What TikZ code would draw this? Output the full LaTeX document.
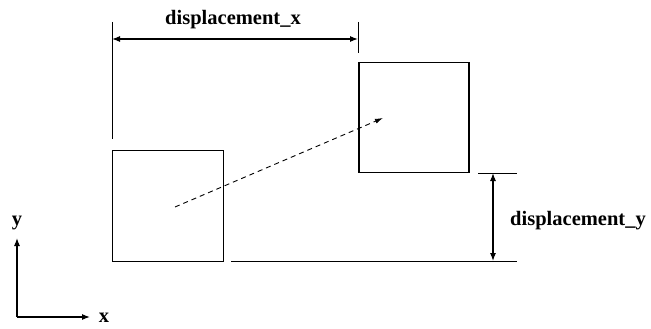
\documentclass[tikz,border=0pt]{standalone}
\usepackage{fontspec}
\setmainfont{Liberation Serif}
\usetikzlibrary{arrows.meta,positioning}

\begin{document}
\begin{tikzpicture}[x=1pt,y=-1pt,
    tip/.style={Latex[length=8pt,width=6pt]},
    dimline/.style={{Latex[length=8pt,width=6pt]}-{Latex[length=8pt,width=6pt]}, line width=1.1pt},
    axisline/.style={-{Latex[length=8pt,width=6pt]}, line width=1.1pt},
    extline/.style={line width=0.8pt},
    boldlabel/.style={font=\fontsize{20.5}{24}\selectfont\bfseries, inner sep=0pt, anchor=base}]
  \useasboundingbox (0,0) rectangle (651,329);

  % Squares
  \node[draw, line width=0.8pt, minimum size=111pt, inner sep=0pt] (start) at (167.5,205.5) {};
  \node[draw, line width=1.8pt, minimum size=110pt, inner sep=0pt] (target) at (414,117.5) {};

  % Motion
  \coordinate (from) at (175,207);
  \coordinate (to) at (383,118);
  \draw[-{Latex[length=8pt,width=5pt]}, line width=0.9pt, dash pattern=on 5pt off 4pt] (from) -- (to);

  % Extension lines
  \coordinate (xl top) at (112,22);
  \coordinate (xl bot) at (112,139);
  \coordinate (xr top) at (358,22);
  \coordinate (xr bot) at (358,53);
  \coordinate (yt left) at (478,173);
  \coordinate (yt right) at (517,173);
  \coordinate (yb left) at (231,261);
  \coordinate (yb right) at (517,261);
  \draw[extline] (xl top) -- (xl bot);
  \draw[extline] (xr top) -- (xr bot);
  \draw[extline] (yt left) -- (yt right);
  \draw[extline] (yb left) -- (yb right);

  % Dimensions
  \coordinate (dx a) at (112,39);
  \coordinate (dx b) at (358,39);
  \coordinate (dy a) at (493,173);
  \coordinate (dy b) at (493,261);
  \draw[dimline] (dx a) -- (dx b);
  \draw[dimline] (dy a) -- (dy b);
  \node[boldlabel] (dx label) at (233,25) {displacement\_x};
  \node[boldlabel] (dy label) at (578,225) {displacement\_y};

  % Axes
  \coordinate (origin) at (17,317);
  \coordinate (y end) at (17,238);
  \coordinate (x end) at (90,317);
  \draw[axisline] (origin) -- (y end);
  \draw[axisline] (origin) -- (x end);
  \node[boldlabel] (y label) at (17,225) {y};
  \node[boldlabel] (x label) at (104,322) {x};
\end{tikzpicture}
\end{document}
